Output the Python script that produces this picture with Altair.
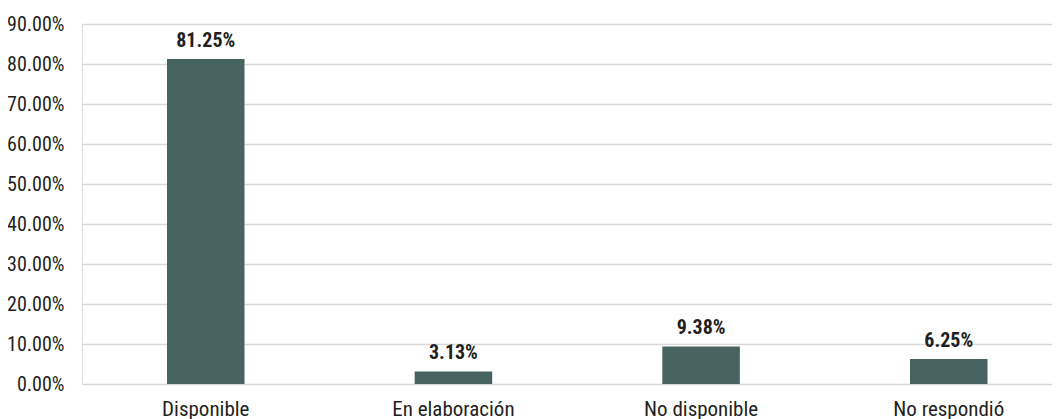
import altair as alt
import pandas as pd

categories = ["Disponible", "En elaboración", "No disponible", "No respondió"]
values = [81.25, 3.13, 9.38, 6.25]
labels = ["81.25%", "3.13%", "9.38%", "6.25%"]
y_ticks = [0, 10, 20, 30, 40, 50, 60, 70, 80, 90]

df = pd.DataFrame({"cat": categories, "val": values, "lab": labels})

FONT = "'Noto Sans Condensed', 'Roboto Condensed', 'Open Sans Condensed', 'DejaVu Sans Condensed', sans-serif"
BAR = "#46635f"

x = alt.X("cat:N", sort=categories, title=None,
          scale=alt.Scale(paddingInner=0.687, paddingOuter=0.3018, align=0.5686),
          axis=alt.Axis(labelAngle=0, ticks=False, domain=False, labelPadding=14,
                        labelFontSize=21, labelFont=FONT, labelColor="#231f20"))
y = alt.Y("val:Q", title=None,
          scale=alt.Scale(domain=[0, 90], nice=False, zero=True),
          axis=alt.Axis(values=y_ticks, labelExpr="format(datum.value, '.2f') + '%'",
                        ticks=False, domain=False, labelPadding=18, labelOverlap=False,
                        labelFontSize=20, labelFont=FONT, labelColor="#231f20",
                        gridColor="#d9d9d9", gridWidth=1.5))

bars = alt.Chart(df).mark_bar(color=BAR).encode(x=x, y=y)
text = alt.Chart(df).mark_text(baseline="alphabetic", dy=-12, fontSize=20, fontWeight="bold",
                               font=FONT, color="#231f20").encode(x=x, y=y, text="lab:N")

chart = (bars + text).properties(
    width=970, height=360,
    autosize=alt.AutoSizeParams(type="none"),
    padding={"left": 74, "top": 16, "right": 0, "bottom": 35},
).configure_view(stroke=None).configure(background="white")

chart.save("out.html", embed_options={"renderer": "svg", "actions": False})
